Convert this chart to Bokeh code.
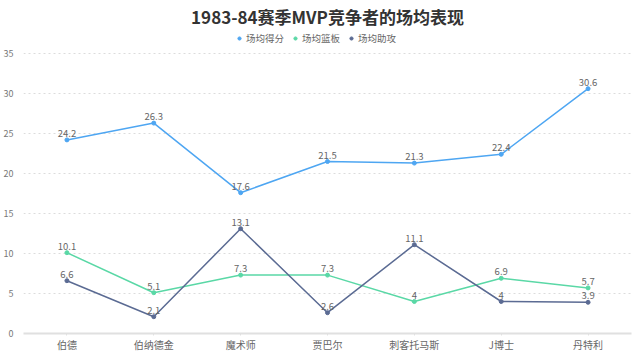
from bokeh.plotting import figure
from bokeh.models import ColumnDataSource, Legend, LegendItem, FactorRange, FixedTicker
from bokeh.core.properties import value
from bokeh.embed import file_html
from bokeh.resources import INLINE

players = ["伯德", "伯纳德金", "魔术师", "贾巴尔", "刺客托马斯", "J博士", "丹特利"]
points = [24.2, 26.3, 17.6, 21.5, 21.3, 22.4, 30.6]
rebounds = [10.1, 5.1, 7.3, 7.3, 4, 6.9, 5.7]
assists = [6.6, 2.1, 13.1, 2.6, 11.1, 4, 3.9]
series_names = ["场均得分", "场均篮板", "场均助攻"]
colors = ["#4ea6f2", "#5ad8a6", "#5b6b93"]
y_ticks = [0, 5, 10, 15, 20, 25, 30, 35]

FONT = "Noto Sans CJK SC"

p = figure(x_range=FactorRange(*players), y_range=(0, 38), frame_width=608, frame_height=304,
           output_backend="svg", toolbar_location=None,
           min_border_left=16, min_border_right=1, min_border_top=0, min_border_bottom=0)
p.title.text = "1983-84赛季MVP竞争者的场均表现"
p.title.align = "center"
p.title.text_font = FONT
p.title.text_font_size = "17px"
p.title.text_font_style = "bold"
p.title.text_color = "#333333"
p.title.standoff = 2
p.outline_line_color = None
p.background_fill_color = "white"

p.xgrid.grid_line_color = None
p.ygrid.grid_line_color = "#dcdcdc"
p.ygrid.grid_line_dash = "2 3"
p.ygrid.ticker = FixedTicker(ticks=y_ticks)

p.yaxis.ticker = FixedTicker(ticks=y_ticks)
p.yaxis.axis_line_color = None
p.yaxis.major_tick_line_color = None
p.yaxis.minor_tick_line_color = None
p.yaxis.major_label_text_font = FONT
p.yaxis.major_label_text_font_size = "9px"
p.yaxis.major_label_text_color = "#777777"
p.yaxis.major_label_standoff = 4

p.xaxis.axis_line_color = "#e0e0e0"
p.xaxis.axis_line_width = 2
p.xaxis.major_tick_line_color = "#e0e0e0"
p.xaxis.major_tick_in = 0
p.xaxis.major_tick_out = 2
p.xaxis.minor_tick_line_color = None
p.xaxis.major_label_text_font = FONT
p.xaxis.major_label_text_font_size = "10px"
p.xaxis.major_label_text_color = "#666666"
p.xaxis.major_label_standoff = 1
p.xaxis.axis_label_standoff = 0
p.xaxis.axis_label_text_font_size = "0px"

items = []
for name, vals, col in zip(series_names, [points, rebounds, assists], colors):
    src = ColumnDataSource(dict(x=players, y=vals, lab=[("%g" % v) for v in vals]))
    p.line("x", "y", source=src, line_color=col, line_width=1.5)
    p.scatter("x", "y", source=src, size=4, color=col)
    p.text("x", "y", text="lab", source=src, text_font=value(FONT), text_font_size="9.5px",
           text_color="#666666", text_align="center", text_baseline="bottom", y_offset=-3)
    # legend swatch only: placed below the visible range so it is not drawn in the plot
    lg = p.scatter([players[0]], [-100], size=7, color=col)
    items.append(LegendItem(label=name, renderers=[lg]))

legend = Legend(items=items, orientation="horizontal", location=(212, 288),
                label_text_font=FONT, label_text_font_size="9.5px", label_text_color="#666666",
                border_line_color=None, background_fill_alpha=0,
                glyph_width=8, glyph_height=8, label_standoff=3, spacing=7,
                padding=0, margin=0, label_height=12)
p.add_layout(legend)

open("out.html", "w").write(file_html(p, INLINE))
